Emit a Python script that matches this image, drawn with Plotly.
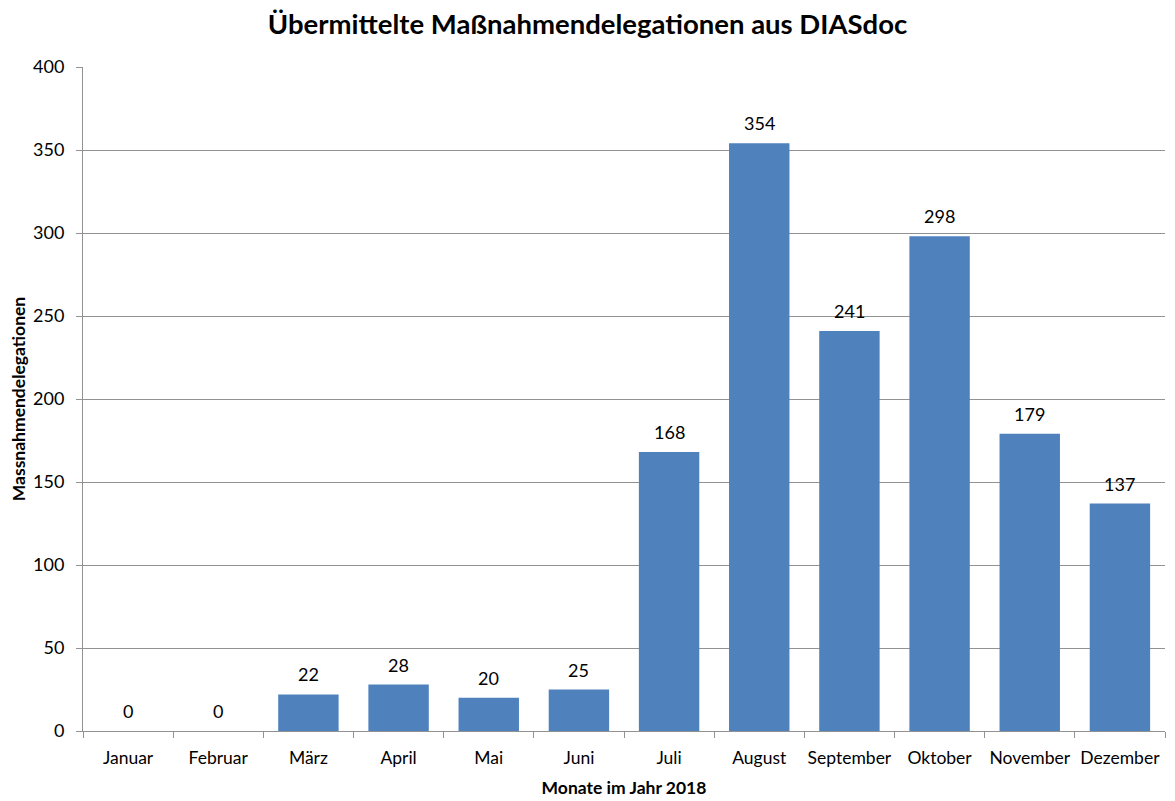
import plotly.graph_objects as go

# Monatswerte 2018
monate = ['Januar', 'Februar', 'März', 'April', 'Mai', 'Juni', 'Juli',
          'August', 'September', 'Oktober', 'November', 'Dezember']
werte = [0, 0, 22, 28, 20, 25, 168, 354, 241, 298, 179, 137]
y_ticks = [0, 50, 100, 150, 200, 250, 300, 350, 400]

font_family = 'Lato, Carlito, Calibri, sans-serif'
grid_color = '#929292'

fig = go.Figure()
fig.add_trace(go.Bar(
    x=monate, y=werte,
    marker=dict(color='#4f81bd', line=dict(width=0)),
    hoverinfo='x+y',
))

# Datenbeschriftungen über den Balken
for m, v in zip(monate, werte):
    fig.add_annotation(x=m, y=v, text=str(v), showarrow=False,
                       yanchor='middle', yshift=20,
                       font=dict(size=18, color='#000000', family=font_family))

# page body has an 8px margin, so the figure is a bit smaller than the window
fig.update_layout(
    width=1167, height=793,
    margin=dict(l=75, r=10, t=59, b=70, autoexpand=False),
    paper_bgcolor='white', plot_bgcolor='white',
    bargap=0.33,
    showlegend=False,
    font=dict(family=font_family, size=18, color='#000000'),
    title=dict(text='<b>Übermittelte Maßnahmendelegationen aus DIASdoc</b>',
               x=0.4966, xref='container', xanchor='center', y=0.979, yanchor='middle',
               font=dict(size=27.5, family=font_family, color='#000000')),
    xaxis=dict(
        title=dict(text='<b>Monate im Jahr 2018</b>', font=dict(size=17.5), standoff=14),
        showline=True, linecolor=grid_color, linewidth=1,
        ticks='outside', tickson='boundaries', ticklen=6, tickcolor=grid_color,
        ticklabelstandoff=11, tickangle=0, automargin=False,
        tickfont=dict(size=17.5),
        showgrid=False,
    ),
    yaxis=dict(
        title=dict(text='<b>Massnahmendelegationen</b>', font=dict(size=17.5), standoff=8),
        range=[0, 400], tickvals=y_ticks,
        showline=True, linecolor=grid_color, linewidth=1,
        ticks='outside', ticklen=6, tickcolor=grid_color,
        ticklabelstandoff=8, automargin=False,
        showgrid=True, gridcolor=grid_color, gridwidth=1,
        zeroline=False,
        tickfont=dict(size=18),
    ),
)

fig.write_html('out.html')
